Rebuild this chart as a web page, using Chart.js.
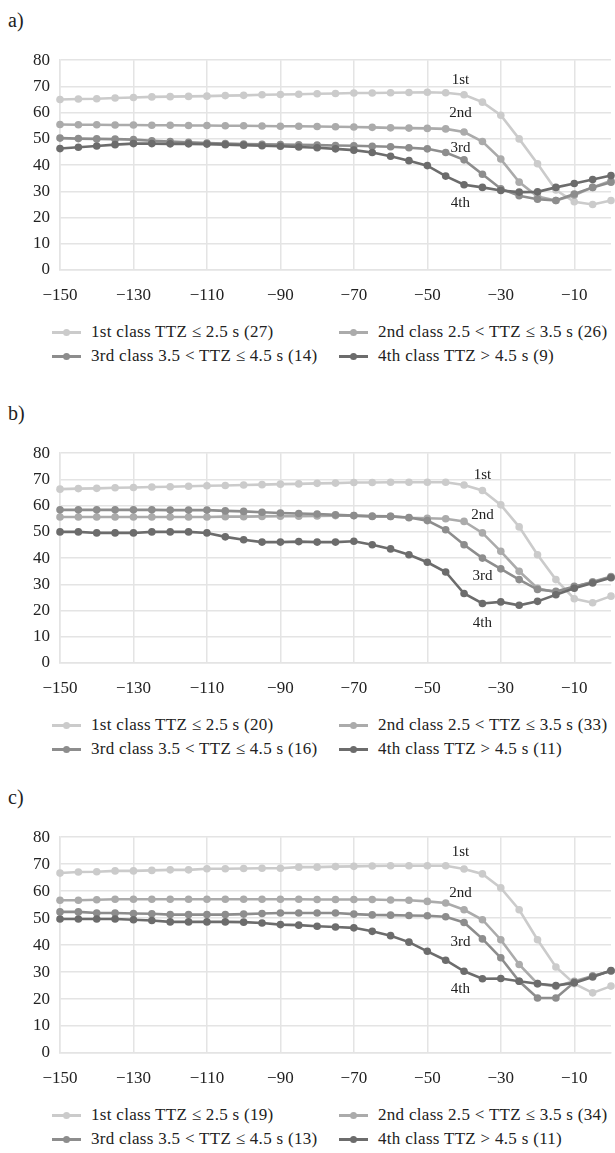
<!DOCTYPE html>
<html lang="en">
<head>
    <meta charset="UTF-8">
    <title>TTZ classes</title>
    <script src="https://cdn.jsdelivr.net/npm/chart.js"></script>
    <style>
        body {
            margin: 0;
            width: 615px;
            height: 1153px;
            overflow: hidden;
            background: #fff;
            font-family: 'Liberation Serif', 'DejaVu Serif', serif;
            color: #222;
            position: relative;
        }
        .panel-label {
            position: absolute;
            left: 8px;
            font-size: 20px;
            line-height: 1;
        }
        .chart-box {
            position: absolute;
            left: 0;
            width: 615px;
        }
        .legend {
            position: absolute;
            left: 0;
            width: 615px;
            display: grid;
            grid-template-columns: 339px 276px;
            font-size: 17px;
            letter-spacing: 0.3px;
            line-height: 24px;
            white-space: nowrap;
        }
        .legend-item {
            display: flex;
            align-items: center;
        }
        .legend-item:nth-child(odd) { padding-left: 52px; }
        .legend-mark {
            position: relative;
            width: 29px;
            height: 24px;
            margin-right: 10px;
            flex: none;
        }
        .legend-mark .ln {
            position: absolute;
            left: 0;
            right: 0;
            top: 11px;
            height: 3px;
        }
        .legend-mark .dot {
            position: absolute;
            left: 11px;
            top: 9px;
            width: 7px;
            height: 7px;
            border-radius: 50%;
        }
    </style>
</head>
<body>
    <div id="page"></div>

    <script>
        // x positions of the samples (s)
        const xValues = [-150, -145, -140, -135, -130, -125, -120, -115, -110, -105, -100, -95, -90, -85, -80, -75,
                         -70, -65, -60, -55, -50, -45, -40, -35, -30, -25, -20, -15, -10, -5, 0];
        const xTicks = [-150, -130, -110, -90, -70, -50, -30, -10];
        const yTicks = [0, 10, 20, 30, 40, 50, 60, 70, 80];

        const seriesColors = ['#cbcbcb', '#ababab', '#8d8d8d', '#6c6c6c'];
        const curveTags = ['1st', '2nd', '3rd', '4th'];

        // panel a)
        const a1 = [65.0, 65.2, 65.3, 65.6, 65.8, 66.0, 66.1, 66.2, 66.3, 66.5, 66.6, 66.8, 66.9, 67.0, 67.2, 67.3,
                    67.5, 67.5, 67.6, 67.7, 67.8, 67.6, 66.8, 64.0, 59.0, 50.0, 40.5, 30.5, 26.0, 25.0, 26.5];
        const a2 = [55.5, 55.4, 55.4, 55.3, 55.3, 55.2, 55.2, 55.1, 55.1, 55.0, 55.0, 54.9, 54.8, 54.8, 54.7, 54.6,
                    54.5, 54.4, 54.2, 54.1, 54.0, 53.8, 52.6, 49.0, 42.3, 33.5, 28.0, 26.5, 28.5, 31.5, 34.0];
        const a3 = [50.3, 50.1, 50.0, 49.9, 49.7, 49.3, 49.0, 48.7, 48.4, 48.2, 48.0, 47.9, 47.8, 47.7, 47.6, 47.5,
                    47.4, 47.2, 47.0, 46.6, 46.2, 44.8, 42.0, 36.5, 31.0, 28.3, 27.0, 26.5, 29.0, 31.5, 33.5];
        const a4 = [46.3, 46.8, 47.3, 47.8, 48.2, 48.2, 48.1, 48.1, 48.0, 47.8, 47.6, 47.4, 47.2, 46.9, 46.6, 46.2,
                    45.7, 44.8, 43.4, 41.7, 39.8, 35.8, 32.5, 31.5, 30.3, 29.7, 29.8, 31.5, 33.0, 34.5, 36.0];
        const aNames = ['1st class TTZ ≤ 2.5 s (27)', '2nd class 2.5 < TTZ ≤ 3.5 s (26)',
                        '3rd class 3.5 < TTZ ≤ 4.5 s (14)', '4th class TTZ > 4.5 s (9)'];
        const aTagX = -41;
        const aTagY = [72.5, 60.0, 46.5, 25.7];

        // panel b)
        const b1 = [66.3, 66.5, 66.6, 66.8, 66.9, 67.1, 67.2, 67.4, 67.6, 67.7, 67.9, 68.0, 68.2, 68.3, 68.5, 68.6,
                    68.8, 68.8, 68.9, 68.9, 68.9, 68.9, 67.9, 65.8, 60.3, 51.9, 41.3, 31.8, 24.5, 23.0, 25.5];
        const b2 = [55.7, 55.7, 55.7, 55.7, 55.7, 55.7, 55.7, 55.7, 55.7, 55.8, 55.8, 55.9, 56.0, 56.0, 56.1, 56.2,
                    56.2, 56.0, 55.9, 55.4, 55.2, 55.0, 54.0, 49.6, 42.6, 35.0, 28.5, 27.0, 29.0, 31.0, 33.0];
        const b3 = [58.4, 58.4, 58.4, 58.4, 58.4, 58.4, 58.3, 58.3, 58.3, 58.0, 57.8, 57.5, 57.2, 57.0, 56.8, 56.5,
                    56.2, 55.9, 55.9, 55.5, 54.3, 50.8, 45.1, 40.0, 35.9, 31.8, 28.0, 27.3, 29.2, 30.8, 32.8];
        const b4 = [50.0, 50.0, 49.6, 49.6, 49.6, 50.0, 50.0, 50.0, 49.6, 48.1, 47.0, 46.1, 46.1, 46.3, 46.1, 46.1,
                    46.4, 45.1, 43.5, 41.3, 38.4, 34.7, 26.5, 22.7, 23.3, 22.0, 23.5, 26.0, 28.5, 30.5, 32.5];
        const bNames = ['1st class TTZ ≤ 2.5 s (20)', '2nd class 2.5 < TTZ ≤ 3.5 s (33)',
                        '3rd class 3.5 < TTZ ≤ 4.5 s (16)', '4th class TTZ > 4.5 s (11)'];
        const bTagX = -35;
        const bTagY = [71.7, 56.5, 33.3, 15.4];

        // panel c)
        const c1 = [66.7, 67.1, 67.2, 67.5, 67.5, 67.7, 67.9, 67.9, 68.3, 68.3, 68.4, 68.5, 68.5, 68.9, 68.9, 69.1,
                    69.2, 69.3, 69.4, 69.4, 69.4, 69.4, 68.2, 66.4, 61.2, 53.1, 42.0, 31.9, 25.7, 22.3, 24.8];
        const c2 = [56.6, 56.6, 56.8, 57.0, 57.0, 57.0, 57.0, 57.0, 57.0, 57.0, 57.0, 57.0, 57.0, 57.0, 56.9, 56.9,
                    56.9, 56.9, 56.7, 56.6, 56.2, 55.6, 53.1, 49.4, 42.0, 32.8, 25.7, 24.7, 26.6, 28.5, 30.4];
        const c3 = [52.3, 52.3, 51.9, 51.9, 51.7, 51.6, 51.3, 51.3, 51.3, 51.3, 51.5, 51.7, 51.9, 51.9, 51.9, 51.9,
                    51.5, 51.2, 51.1, 51.0, 50.9, 50.5, 48.4, 42.3, 35.3, 26.6, 20.4, 20.4, 26.2, 28.5, 30.4];
        const c4 = [49.7, 49.7, 49.7, 49.7, 49.4, 49.1, 48.6, 48.6, 48.6, 48.6, 48.5, 48.2, 47.6, 47.4, 47.0, 46.7,
                    46.4, 45.1, 43.5, 41.1, 37.7, 34.4, 30.3, 27.5, 27.6, 26.6, 25.7, 25.0, 26.0, 28.2, 30.6];
        const cNames = ['1st class TTZ ≤ 2.5 s (19)', '2nd class 2.5 < TTZ ≤ 3.5 s (34)',
                        '3rd class 3.5 < TTZ ≤ 4.5 s (13)', '4th class TTZ > 4.5 s (11)'];
        const cTagX = -41;
        const cTagY = [74.4, 59.3, 41.0, 23.8];

        const FONT = "'Liberation Serif', 'DejaVu Serif', serif";
        const GRID = '#e4e4e4';

        // draws the 1st/2nd/3rd/4th tags next to the curves
        const curveTagPlugin = {
            id: 'curveTags',
            afterDatasetsDraw(chart, args, opts) {
                const {ctx, scales} = chart;
                ctx.save();
                ctx.font = '15px ' + FONT;
                ctx.fillStyle = '#222';
                ctx.textAlign = 'center';
                ctx.textBaseline = 'middle';
                opts.ys.forEach((y, i) => {
                    ctx.fillText(curveTags[i], scales.x.getPixelForValue(opts.x), scales.y.getPixelForValue(y));
                });
                ctx.restore();
            }
        };

        function minus(v) {
            return v < 0 ? '\u2212' + Math.abs(v) : String(v);
        }

        function makePanel(letter, top, plotH, series, names, tagX, tagY) {
            const page = document.getElementById('page');

            const label = document.createElement('div');
            label.className = 'panel-label';
            label.style.top = (top + 10) + 'px';
            label.textContent = letter + ')';
            page.appendChild(label);

            const box = document.createElement('div');
            box.className = 'chart-box';
            box.style.top = (top + 40) + 'px';
            const canvas = document.createElement('canvas');
            canvas.width = 615;
            canvas.height = 20 + plotH + 45;
            box.appendChild(canvas);
            page.appendChild(box);

            new Chart(canvas.getContext('2d'), {
                type: 'line',
                data: {
                    datasets: series.map((s, i) => ({
                        label: names[i],
                        data: xValues.map((x, j) => ({x: x, y: s[j]})),
                        borderColor: seriesColors[i],
                        backgroundColor: seriesColors[i],
                        pointBackgroundColor: seriesColors[i],
                        pointBorderWidth: 0,
                        pointRadius: 3.8,
                        borderWidth: 2.6,
                        tension: 0,
                        order: 3 - i,
                        clip: false
                    }))
                },
                options: {
                    responsive: false,
                    animation: false,
                    layout: {padding: {top: 20, right: 0, left: 0, bottom: 0}},
                    plugins: {
                        legend: {display: false},
                        tooltip: {enabled: false},
                        curveTags: {x: tagX, ys: tagY}
                    },
                    scales: {
                        x: {
                            type: 'linear',
                            min: -150,
                            max: 0,
                            afterBuildTicks: sc => { sc.ticks = xTicks.map(v => ({value: v})); },
                            afterFit: sc => { sc.height = 45; },
                            grid: {color: GRID, lineWidth: 1.5, drawTicks: false},
                            border: {color: GRID, width: 1.5},
                            ticks: {
                                padding: 15,
                                color: '#222',
                                font: {family: FONT, size: 17},
                                maxRotation: 0,
                                callback: v => minus(v)
                            }
                        },
                        y: {
                            min: 0,
                            max: 80,
                            afterBuildTicks: sc => { sc.ticks = yTicks.map(v => ({value: v})); },
                            afterFit: sc => { sc.width = 60; },
                            grid: {color: GRID, lineWidth: 1.5, drawTicks: false},
                            border: {color: GRID, width: 1.5},
                            ticks: {
                                padding: 10,
                                color: '#222',
                                font: {family: FONT, size: 17}
                            }
                        }
                    }
                },
                plugins: [curveTagPlugin]
            });

            const legend = document.createElement('div');
            legend.className = 'legend';
            legend.style.top = (top + 110 + plotH) + 'px';
            names.forEach((n, i) => {
                const item = document.createElement('div');
                item.className = 'legend-item';
                item.innerHTML = '<span class="legend-mark"><span class="ln" style="background:' + seriesColors[i] +
                    '"></span><span class="dot" style="background:' + seriesColors[i] + '"></span></span>';
                const txt = document.createElement('span');
                txt.textContent = n;
                item.appendChild(txt);
                legend.appendChild(item);
            });
            page.appendChild(legend);
        }

        makePanel('a', 0, 210, [a1, a2, a3, a4], aNames, aTagX, aTagY);
        makePanel('b', 393, 210, [b1, b2, b3, b4], bNames, bTagX, bTagY);
        makePanel('c', 777, 216, [c1, c2, c3, c4], cNames, cTagX, cTagY);
    </script>
</body>
</html>
